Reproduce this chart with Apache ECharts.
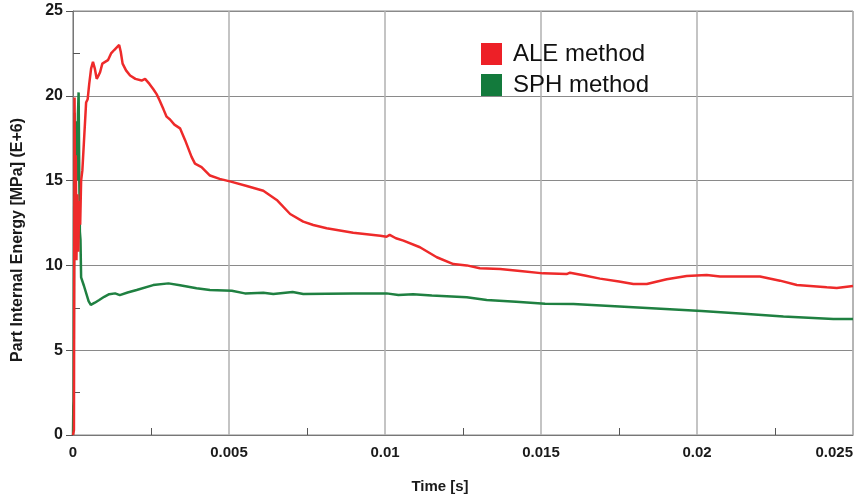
<!DOCTYPE html>
<html>
<head>
<meta charset="utf-8">
<script src="https://cdn.jsdelivr.net/npm/echarts@6/dist/echarts.min.js"></script>
<style>html,body{margin:0;padding:0;background:#fff}#c{width:866px;height:499px}</style>
</head>
<body>
<div id="c"></div>
<script>
var seriesNames = ['ALE method', 'SPH method'];
var xTickLabels = ['0', '0.005', '0.01', '0.015', '0.02', '0.025'];
var yTickLabels = ['0', '5', '10', '15', '20', '25'];

var aleTime = [0,0.00003,0.00005,0.00007,0.00009,0.00011,0.00014,0.00017,0.0002,0.00023,0.00026,0.0003,0.00036,0.00042,0.00047,0.00052,0.00058,0.00064,0.0007,0.00076,0.00082,0.00087,0.00094,0.00103,0.00112,0.00122,0.00132,0.00148,0.00153,0.00159,0.0017,0.00183,0.002,0.0022,0.00231,0.00245,0.00257,0.00268,0.00277,0.0029,0.003,0.00311,0.00325,0.00343,0.00359,0.0038,0.00391,0.00412,0.00439,0.0047,0.00506,0.00557,0.0061,0.00653,0.00696,0.00738,0.0077,0.00813,0.00898,0.00985,0.01005,0.01015,0.01035,0.01059,0.01112,0.01166,0.01219,0.01262,0.01304,0.01369,0.01433,0.01507,0.01582,0.01593,0.0164,0.01689,0.0175,0.01796,0.01839,0.01903,0.01967,0.02031,0.02074,0.02202,0.02266,0.0232,0.02416,0.02448,0.025];
var aleEnergy = [0,0.3,19.9,12.0,16.5,10.3,14.2,10.8,13.8,12.4,15.0,15.6,17.6,19.6,19.8,20.7,21.6,22.0,21.6,21.0,21.2,21.4,21.9,22.0,22.1,22.5,22.7,23.0,22.6,21.9,21.5,21.2,21.0,20.9,21.0,20.7,20.4,20.1,19.75,19.2,18.77,18.6,18.3,18.08,17.4,16.4,16.0,15.8,15.3,15.1,14.94,14.68,14.4,13.86,13.03,12.58,12.38,12.19,11.93,11.75,11.69,11.8,11.6,11.46,11.07,10.48,10.08,10.0,9.83,9.79,9.67,9.53,9.49,9.57,9.4,9.22,9.05,8.9,8.9,9.18,9.37,9.43,9.34,9.34,9.1,8.84,8.71,8.67,8.79];

var sphTime = [0,0.00001,0.00002,0.00003,0.00005,0.00007,0.0001,0.00013,0.00016,0.00018,0.0002,0.00022,0.00024,0.00026,0.00035,0.0005,0.00057,0.0007,0.00084,0.001,0.00116,0.00135,0.0015,0.00175,0.00204,0.00257,0.00306,0.00343,0.00396,0.00439,0.00509,0.00551,0.0061,0.00642,0.00704,0.00738,0.00813,0.00898,0.01005,0.01043,0.0109,0.0115,0.01262,0.01326,0.0142,0.01513,0.01604,0.01796,0.02015,0.0215,0.02277,0.02437,0.025];
var sphEnergy = [0,1.7,2.0,9.0,19.0,13.0,18.5,15.0,19.0,20.2,15.5,12.0,11.5,9.3,8.8,7.9,7.67,7.8,7.96,8.15,8.3,8.35,8.25,8.4,8.55,8.84,8.94,8.83,8.65,8.55,8.51,8.35,8.39,8.31,8.43,8.31,8.33,8.35,8.35,8.25,8.3,8.22,8.12,7.96,7.85,7.74,7.72,7.53,7.31,7.15,6.98,6.84,6.84];

function pairs(xs, ys) { return xs.map(function (x, i) { return [x, ys[i]]; }); }

var chart = echarts.init(document.getElementById('c'), null, {renderer: 'canvas'});
var FONT = '"Liberation Sans", Arial, sans-serif';
chart.setOption({
  animation: false,
  backgroundColor: '#ffffff',
  grid: {left: 73, right: 13, top: 11, bottom: 64, outerBoundsMode: 'none', containLabel: false,
         show: true, borderColor: '#8a8a8a', borderWidth: 1, backgroundColor: 'transparent'},
  legend: {
    data: seriesNames,
    orient: 'vertical', left: 481, top: 42, padding: 0,
    itemWidth: 21, itemHeight: 22, itemGap: 7, icon: 'rect',
    textStyle: {fontFamily: FONT, fontSize: 24, color: '#111', padding: [0, 0, 0, 6]}
  },
  xAxis: {
    type: 'value', min: 0, max: 0.025, interval: 0.005,
    axisLine: {lineStyle: {color: '#777', width: 1}},
    axisTick: {show: false},
    minorTick: {show: true, splitNumber: 2, length: -7, lineStyle: {color: '#555'}},
    splitLine: {show: true, lineStyle: {color: '#b0b0b0', width: 1.5}},
    axisLabel: {
      margin: 10, color: '#1a1a1a', fontFamily: FONT, fontWeight: 'bold', fontSize: 15,
      alignMaxLabel: 'right',
      formatter: function (v) { return xTickLabels[Math.round(v / 0.005)]; }
    }
  },
  yAxis: {
    type: 'value', min: 0, max: 25, interval: 5,
    axisLine: {show: true, lineStyle: {color: '#777', width: 1}},
    axisTick: {show: true, length: 7, lineStyle: {color: '#555'}},
    minorTick: {show: true, splitNumber: 2, length: -7, lineStyle: {color: '#555'}},
    splitLine: {show: true, lineStyle: {color: '#8a8a8a', width: 1.2}},
    axisLabel: {
      margin: 10, color: '#1a1a1a', fontFamily: FONT, fontWeight: 'bold', fontSize: 16,
      formatter: function (v) { return yTickLabels[Math.round(v / 5)]; }
    }
  },
  graphic: [
    {type: 'text', x: 18, y: 240, rotation: Math.PI / 2,
     style: {text: 'Part Internal Energy [MPa] (E+6)', fontFamily: FONT, fontWeight: 'bold', fontSize: 16, fill: '#1a1a1a', align: 'center', verticalAlign: 'middle'}},
    {type: 'text', x: 440, y: 487,
     style: {text: 'Time [s]', fontFamily: FONT, fontWeight: 'bold', fontSize: 15, fill: '#1a1a1a', align: 'center', verticalAlign: 'middle'}}
  ],
  series: [
    {name: 'SPH method', type: 'line', data: pairs(sphTime, sphEnergy), showSymbol: false, z: 2,
     color: '#137a3c', lineStyle: {color: '#1f8041', width: 2.5}},
    {name: 'ALE method', type: 'line', data: pairs(aleTime, aleEnergy), showSymbol: false, z: 3,
     color: '#ed2027', lineStyle: {color: '#ee2a2a', width: 2.5}}
  ]
});
</script>
</body>
</html>
